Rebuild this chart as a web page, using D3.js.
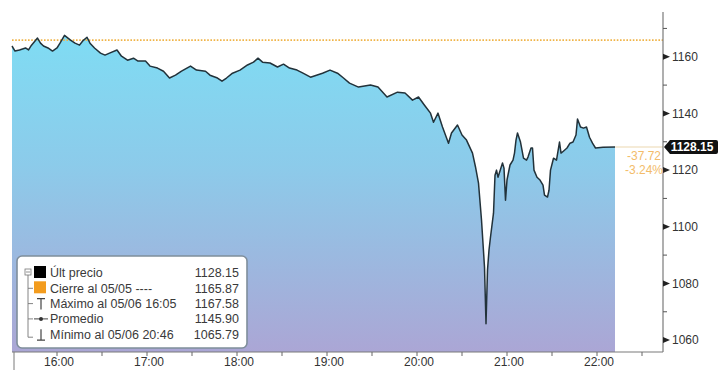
<!DOCTYPE html>
<html>
<head>
<meta charset="utf-8">
<script src="https://cdn.jsdelivr.net/npm/d3@7"></script>
<style>
  html, body { margin: 0; padding: 0; background: #fff; }
  svg { display: block; font-family: "Liberation Sans", Arial, sans-serif; }
</style>
</head>
<body>
<svg id="chart" width="718" height="370"></svg>
<script>
// Intraday index level, 6 May (times in CET)
const times = ["15:30","15:32","15:35","15:39","15:41","15:43","15:47","15:49","15:51","15:54",
  "15:57","16:00","16:02","16:05","16:09","16:12","16:15","16:17","16:20","16:22",
  "16:25","16:29","16:32","16:35","16:40","16:43","16:47","16:51","16:54","16:59",
  "17:02","17:07","17:11","17:15","17:19","17:23","17:29","17:33","17:39","17:42",
  "17:47","17:50","17:53","17:57","18:02","18:07","18:11","18:14","18:17","18:22",
  "18:27","18:31","18:35","18:40","18:44","18:49","18:53","18:57","19:02","19:07",
  "19:11","19:15","19:21","19:29","19:34","19:40","19:47","19:52","19:57","20:01",
  "20:05","20:09","20:11","20:14","20:17","20:21","20:23","20:27","20:30","20:33",
  "20:37","20:39","20:41","20:43","20:45","20:46","20:47","20:48","20:49","20:51",
  "20:52","20:53","20:54","20:57","20:58","20:59","21:00","21:02","21:04","21:05",
  "21:06","21:07","21:09","21:11","21:13","21:14","21:16","21:17","21:18","21:20",
  "21:22","21:24","21:25","21:27","21:28","21:29","21:31","21:33","21:35","21:36",
  "21:37","21:40","21:42","21:44","21:46","21:47","21:49","21:51","21:53","21:55",
  "21:57","21:59","22:04","22:12"];
const prices = [1163.8,1162.0,1162.4,1163.1,1162.4,1164.1,1166.6,1164.8,1163.8,1163.1,
  1162.0,1163.1,1164.8,1167.58,1165.9,1164.8,1164.1,1165.5,1166.9,1164.8,
  1163.1,1161.3,1160.6,1161.3,1162.4,1160.2,1158.8,1159.5,1158.5,1158.5,
  1156.7,1156.0,1154.9,1152.5,1153.5,1154.9,1156.7,1155.3,1154.9,1153.5,
  1152.5,1151.4,1152.5,1154.2,1155.3,1157.1,1158.1,1159.5,1158.1,1157.8,
  1156.4,1157.4,1156.0,1155.3,1154.2,1152.8,1153.5,1154.2,1155.3,1154.2,
  1152.5,1150.7,1149.3,1150.0,1149.3,1145.8,1147.5,1147.2,1144.7,1145.8,
  1142.9,1140.1,1136.9,1140.1,1135.2,1129.5,1133.1,1135.9,1132.4,1130.6,
  1126.0,1121.1,1115.4,1102.4,1085.8,1065.79,1084.7,1091.8,1096.4,1104.8,
  1118.2,1120.0,1117.5,1122.5,1120.7,1109.4,1116.5,1121.8,1123.5,1126.0,
  1130.6,1133.1,1129.9,1124.2,1123.5,1124.6,1127.8,1127.8,1120.0,1117.5,
  1116.5,1114.7,1111.2,1110.5,1112.9,1120.0,1124.2,1123.5,1129.9,1126.0,
  1126.4,1127.8,1129.5,1129.9,1132.4,1138.0,1135.2,1134.8,1135.2,1131.6,
  1129.5,1127.8,1128.1,1128.15];

const prevClose = 1165.87;
const lastPrice = 1128.15;
const netChange = "-37.72";
const pctChange = "-3.24%";

const yTicks = [1060, 1080, 1100, 1120, 1140, 1160];
const yMinorTicks = [1070, 1090, 1110, 1130, 1150, 1170];
const xTickHours = ["16:00","17:00","18:00","19:00","20:00","21:00","22:00"];

const legendLabels = ["Últ precio", "Cierre al 05/05 ----", "Máximo al 05/06 16:05", "Promedio", "Mínimo al 05/06 20:46"];
const legendValues = ["1128.15", "1165.87", "1167.58", "1145.90", "1065.79"];

const parse = s => { const [h, m] = s.split(":").map(Number); return new Date(2010, 4, 6, h, m); };
const data = times.map((t, i) => ({ t: parse(t), v: prices[i] }));

const svg = d3.select("#chart");
const plotLeft = 12, plotRight = 663, plotTop = 12, plotBottom = 352;

const x = d3.scaleTime().domain([parse("15:30"), parse("22:44")]).range([plotLeft, plotRight]);
const y = d3.scaleLinear().domain([1055.8, 1175.8]).range([plotBottom, plotTop]);

// vertical gradient for the area
const defs = svg.append("defs");
const grad = defs.append("linearGradient").attr("id", "areaFill")
  .attr("gradientUnits", "userSpaceOnUse")
  .attr("x1", 0).attr("x2", 0).attr("y1", plotTop).attr("y2", plotBottom);
grad.append("stop").attr("offset", "0%").attr("stop-color", "#7ddff5");
grad.append("stop").attr("offset", "45%").attr("stop-color", "#8ccbea");
grad.append("stop").attr("offset", "100%").attr("stop-color", "#aba6d5");

const area = d3.area().x(d => x(d.t)).y0(plotBottom).y1(d => y(d.v));
const line = d3.line().x(d => x(d.t)).y(d => y(d.v));

svg.append("path").datum(data).attr("d", area).attr("fill", "url(#areaFill)");

// previous close, dotted
svg.append("line")
  .attr("x1", plotLeft).attr("x2", plotRight)
  .attr("y1", y(prevClose)).attr("y2", y(prevClose))
  .attr("stroke", "#f0b448").attr("stroke-width", 1.6)
  .attr("stroke-dasharray", "1.6,1.6");

// last price guide to the axis
const lastT = data[data.length - 1].t;
svg.append("line")
  .attr("x1", x(lastT)).attr("x2", plotRight)
  .attr("y1", y(lastPrice)).attr("y2", y(lastPrice))
  .attr("stroke", "#ecd8b0").attr("stroke-width", 1.2);

svg.append("path").datum(data).attr("d", line)
  .attr("fill", "none").attr("stroke", "#22323a").attr("stroke-width", 1.5)
  .attr("stroke-linejoin", "round");

// frame
svg.append("line").attr("x1", plotRight).attr("x2", plotRight).attr("y1", plotTop).attr("y2", plotBottom)
  .attr("stroke", "#7a7a7a").attr("stroke-width", 1.2);
svg.append("line").attr("x1", plotLeft).attr("x2", plotRight).attr("y1", plotBottom).attr("y2", plotBottom)
  .attr("stroke", "#7a7a7a").attr("stroke-width", 1.2);
svg.append("line").attr("x1", plotLeft + 2).attr("x2", plotLeft + 2).attr("y1", plotBottom).attr("y2", 370)
  .attr("stroke", "#7a7a7a").attr("stroke-width", 1);

// right axis: triangle markers on major ticks, short lines on minor ticks
const yAxisG = svg.append("g").attr("class", "y-axis");
yAxisG.selectAll("path.major").data(yTicks).join("path")
  .attr("d", d => `M${plotRight},${y(d) - 3}L${plotRight + 7},${y(d)}L${plotRight},${y(d) + 3}Z`)
  .attr("fill", "#222");
yAxisG.selectAll("line.minor").data(yMinorTicks).join("line")
  .attr("x1", plotRight).attr("x2", plotRight + 4)
  .attr("y1", d => y(d)).attr("y2", d => y(d))
  .attr("stroke", "#555").attr("stroke-width", 1);
yAxisG.selectAll("text").data(yTicks).join("text")
  .attr("x", plotRight + 9).attr("y", d => y(d)).attr("dy", "0.35em")
  .attr("font-size", 12).attr("fill", "#333").text(d => d);

// bottom axis: ticks every 30 minutes, labels on the hour
const halfHours = d3.timeMinute.every(30).range(parse("15:31"), parse("22:31"));
svg.append("g").selectAll("line").data(halfHours).join("line")
  .attr("x1", d => x(d)).attr("x2", d => x(d))
  .attr("y1", plotBottom).attr("y2", plotBottom + 4)
  .attr("stroke", "#666").attr("stroke-width", 1);
svg.append("g").selectAll("text").data(xTickHours).join("text")
  .attr("x", d => x(parse(d)) + 2).attr("y", 366)
  .attr("text-anchor", "middle").attr("font-size", 12).attr("fill", "#333")
  .text(d => d);

// last price tag
const ly = y(lastPrice);
svg.append("path")
  .attr("d", `M${plotRight + 1},${ly}L${plotRight + 7},${ly - 7}L716,${ly - 7}Q718,${ly - 7} 718,${ly - 5}L718,${ly + 5}Q718,${ly + 7} 716,${ly + 7}L${plotRight + 7},${ly + 7}Z`)
  .attr("fill", "#111");
svg.append("text").attr("x", 692).attr("y", ly).attr("dy", "0.35em")
  .attr("text-anchor", "middle").attr("font-size", 12).attr("font-weight", "bold")
  .attr("fill", "#fff").text(lastPrice.toFixed(2));

// change labels
svg.append("text").attr("x", 661).attr("y", ly + 9).attr("dy", "0.35em")
  .attr("text-anchor", "end").attr("font-size", 12).attr("fill", "#f3bc6a").text(netChange);
svg.append("text").attr("x", 663).attr("y", ly + 23).attr("dy", "0.35em")
  .attr("text-anchor", "end").attr("font-size", 12).attr("fill", "#f3bc6a").text(pctChange);

// legend
const lg = svg.append("g");
lg.append("rect").attr("x", 17).attr("y", 256).attr("width", 230).attr("height", 92)
  .attr("rx", 5).attr("fill", "#fff").attr("stroke", "#7f8e9b").attr("stroke-width", 1.6);
const rowY = i => 273 + i * 15.3;
// tree connector
lg.append("rect").attr("x", 25).attr("y", rowY(0) - 4).attr("width", 6).attr("height", 6)
  .attr("fill", "#fff").attr("stroke", "#777").attr("stroke-width", 0.8);
lg.append("line").attr("x1", 26).attr("x2", 30).attr("y1", rowY(0) - 1).attr("y2", rowY(0) - 1)
  .attr("stroke", "#777").attr("stroke-width", 0.8);
lg.append("line").attr("x1", 28).attr("x2", 28).attr("y1", rowY(0) + 2).attr("y2", rowY(4) + 3)
  .attr("stroke", "#777").attr("stroke-width", 0.9);
[1, 2, 3, 4].forEach(i => {
  const yy = i === 4 ? rowY(i) + 3 : rowY(i);
  lg.append("line").attr("x1", 28).attr("x2", 33).attr("y1", yy).attr("y2", yy)
    .attr("stroke", "#777").attr("stroke-width", 0.9);
});
// swatches and markers
lg.append("rect").attr("x", 34).attr("y", rowY(0) - 7).attr("width", 12).attr("height", 12).attr("fill", "#000");
lg.append("rect").attr("x", 34).attr("y", rowY(1) - 7).attr("width", 12).attr("height", 12).attr("fill", "#f39c1e");
lg.append("path").attr("d", `M37,${rowY(2) - 5}H45M41,${rowY(2) - 5}V${rowY(2) + 6}`)
  .attr("stroke", "#444").attr("stroke-width", 1.2).attr("fill", "none");
lg.append("path").attr("d", `M34,${rowY(3)}H48`).attr("stroke", "#444").attr("stroke-width", 1);
lg.append("circle").attr("cx", 41).attr("cy", rowY(3)).attr("r", 2).attr("fill", "#333");
lg.append("path").attr("d", `M41,${rowY(4) - 5}V${rowY(4) + 6}M37,${rowY(4) + 6}H45`)
  .attr("stroke", "#444").attr("stroke-width", 1.2).attr("fill", "none");

lg.selectAll("text.lab").data(legendLabels).join("text").attr("class", "lab")
  .attr("x", 50).attr("y", (d, i) => rowY(i)).attr("dy", "0.35em")
  .attr("font-size", 12.5).attr("fill", "#3a3a3a").text(d => d);
lg.selectAll("text.val").data(legendValues).join("text").attr("class", "val")
  .attr("x", 239).attr("y", (d, i) => rowY(i)).attr("dy", "0.35em")
  .attr("text-anchor", "end").attr("font-size", 12.5).attr("fill", "#3a3a3a").text(d => d);
</script>
</body>
</html>
